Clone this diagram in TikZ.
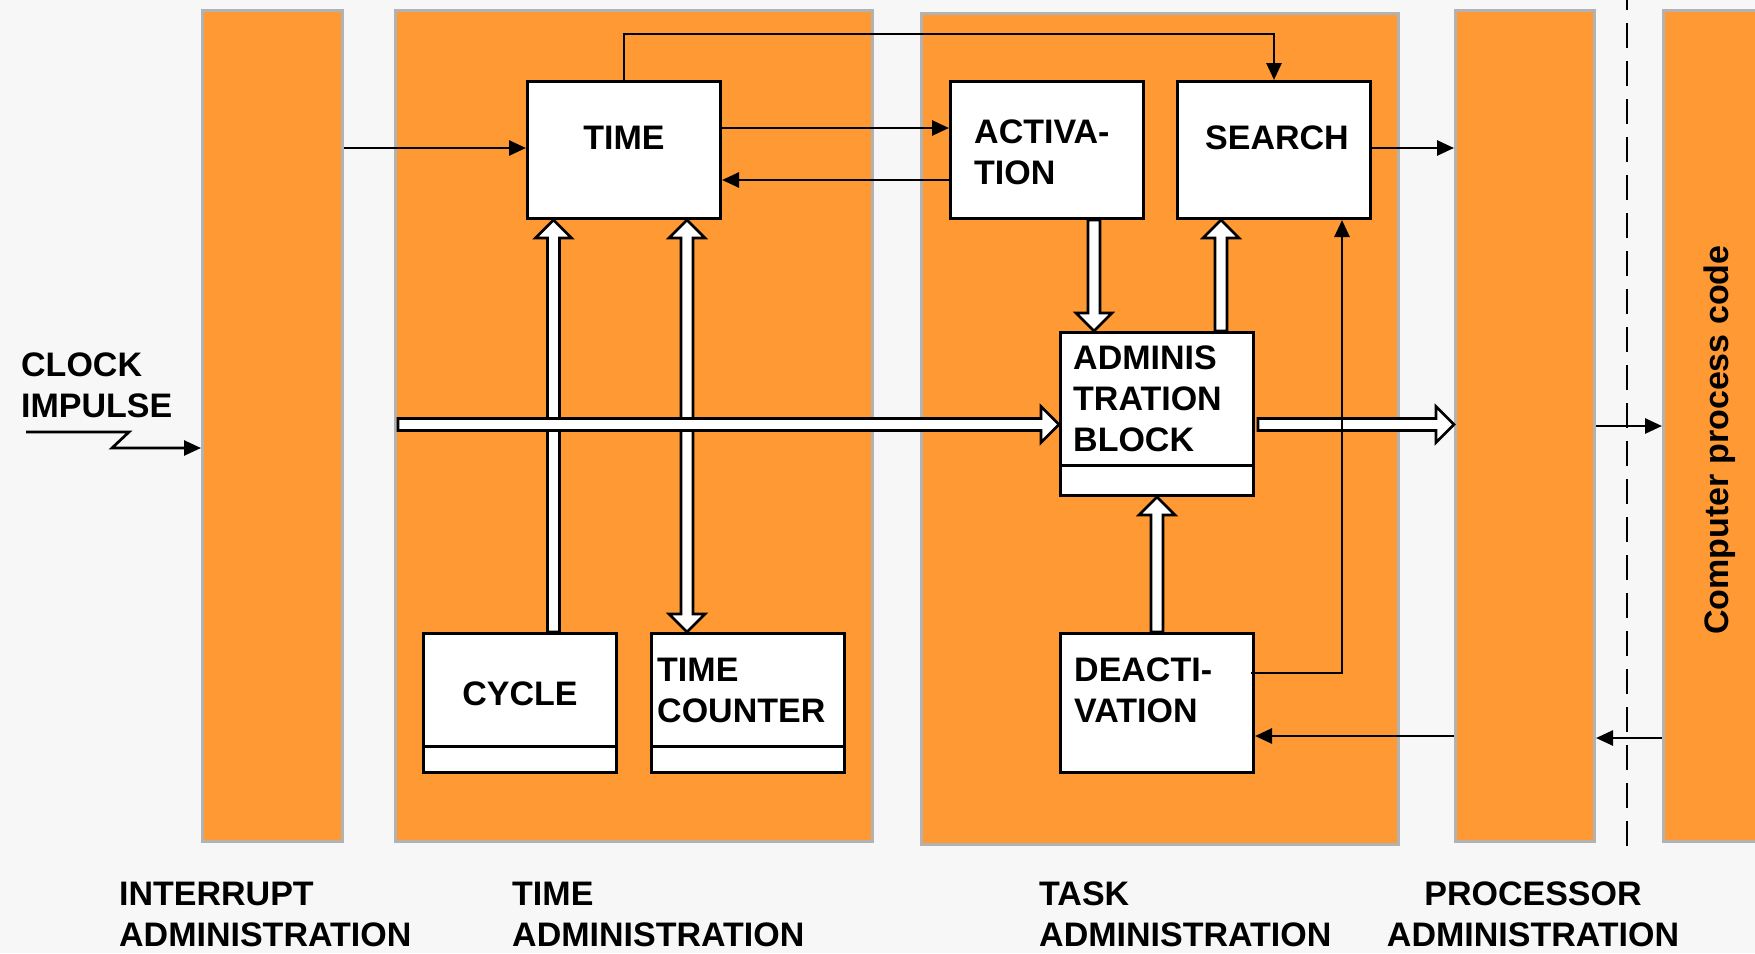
\documentclass[tikz,border=0pt]{standalone}
\usepackage{fontspec}
\setmainfont{Liberation Sans}
\usetikzlibrary{arrows.meta,calc}

\definecolor{panelfill}{RGB}{255,153,51}
\definecolor{panelrim}{RGB}{178,178,178}
\definecolor{paper}{RGB}{247,247,247}

% Broad white arrow: #1 tail, #2 tip, #3 unit direction, #4 unit normal
\newcommand\hollowarrow[4]{%
  \draw[hollow] ($(#1)+6*(#4)$) -- ($(#2)-18*(#3)+6*(#4)$) -- ($(#2)-18*(#3)+18*(#4)$)
    -- (#2) -- ($(#2)-18*(#3)-18*(#4)$) -- ($(#2)-18*(#3)-6*(#4)$) -- ($(#1)-6*(#4)$) -- cycle;}
% Broad white arrow with heads at both ends: #1 and #2 tips, #3 direction #1->#2, #4 normal
\newcommand\hollowdouble[4]{%
  \draw[hollow] ($(#1)+18*(#3)+6*(#4)$) -- ($(#2)-18*(#3)+6*(#4)$) -- ($(#2)-18*(#3)+18*(#4)$)
    -- (#2) -- ($(#2)-18*(#3)-18*(#4)$) -- ($(#2)-18*(#3)-6*(#4)$) -- ($(#1)+18*(#3)-6*(#4)$)
    -- ($(#1)+18*(#3)-18*(#4)$) -- (#1) -- ($(#1)+18*(#3)+18*(#4)$) -- cycle;}

\begin{document}
\begin{tikzpicture}[x=1pt,y=-1pt,
  panel/.style={draw=panelrim, fill=panelfill, line width=3pt, anchor=north west,
    inner sep=0pt, minimum height=831pt},
  blockbox/.style={draw=black, fill=white, line width=3pt, anchor=north west,
    inner sep=0pt, minimum width=193pt},
  lbl/.style={font=\fontsize{34}{41}\selectfont\bfseries, inner sep=0pt, align=left},
  conn/.style={line width=2.7pt, -{Triangle[length=17pt,width=15pt]}},
  hollow/.style={draw=black, fill=white, line width=2.6pt, line join=miter},
]
\fill[paper] (0,0) rectangle (1755,953);
\useasboundingbox (0,0) rectangle (1755,953);

% administration columns
\node[panel, minimum width=140pt] (intr) at (201,9) {};
\node[panel, minimum width=477pt] (tadm) at (394,9) {};
\node[panel, minimum width=477pt] (kadm) at (920,12) {};
\node[panel, minimum width=139pt] (padm) at (1454,9) {};
\node[panel, minimum width=120pt] (cpc) at (1662,9) {};

% separation between system and process code
\coordinate (sepTop) at (1627,0);
\coordinate (sepBot) at (1627,847);
\draw[line width=2.6pt, dash pattern=on 25pt off 13pt, dash phase=15pt] (sepTop) -- (sepBot);

% function blocks
\node[blockbox, minimum height=137pt] (time) at (526,80) {};
\node[blockbox, minimum height=137pt] (act) at (949,80) {};
\node[blockbox, minimum height=137pt] (search) at (1176,80) {};
\node[blockbox, minimum height=163pt] (adm) at (1059,331) {};
\node[blockbox, minimum height=139pt] (cyc) at (422,632) {};
\node[blockbox, minimum height=139pt] (tcnt) at (650,632) {};
\node[blockbox, minimum height=139pt] (deact) at (1059,632) {};

\draw[line width=3pt] (adm.west |- 0,465) -- (adm.east |- 0,465);
\draw[line width=3pt] (cyc.west |- 0,746) -- (cyc.east |- 0,746);
\draw[line width=3pt] (tcnt.west |- 0,746) -- (tcnt.east |- 0,746);

% data flows (broad arrows)
\hollowarrow{cyc.north -| 553.5,0}{time.south -| 553.5,0}{0,-1}{1,0}
\hollowdouble{time.south -| 687,0}{tcnt.north -| 687,0}{0,1}{1,0}
\hollowarrow{act.south -| 1094,0}{adm.north -| 1094,0}{0,1}{1,0}
\hollowarrow{adm.north -| 1221,0}{search.south -| 1221,0}{0,-1}{1,0}
\hollowarrow{deact.north}{adm.south}{0,-1}{1,0}
\coordinate (flowIn) at ($(tadm.west |- 0,424.5)+(4,0)$);
\coordinate (flowOut) at ($(adm.east |- 0,424.5)+(3,0)$);
\hollowarrow{flowIn}{adm.west |- 0,424.5}{1,0}{0,1}
\hollowarrow{flowOut}{padm.west |- 0,424.5}{1,0}{0,1}

% control flows
\coordinate (clk) at (26,432);
\draw[conn] (clk) -- ++(103,0) -- ++(-17,16) -- (intr.west |- 0,448);
\draw[conn] (intr.east |- 0,148) -- (time.west |- 0,148);
\draw[conn] (time.north) -- (time.north |- 0,34) -| (search.north);
\draw[conn] (time.east |- 0,128) -- (act.west |- 0,128);
\draw[conn] (act.west |- 0,180) -- (time.east |- 0,180);
\draw[conn] (search.east |- 0,148) -- (padm.west |- 0,148);
\draw[conn] ($(deact.east |- 0,673)+(-4,0)$) -| (search.south -| 1342,0);
\draw[conn] (padm.west |- 0,736) -- (deact.east |- 0,736);
\draw[conn] (padm.east |- 0,426) -- (cpc.west |- 0,426);
\draw[conn] (cpc.west |- 0,738) -- (padm.east |- 0,738);

% block texts (base anchor = baseline of the last line)
\node[lbl, anchor=base] (timetxt) at (time.north |- 0,149) {TIME};
\node[lbl, anchor=base west] (acttxt) at (974,184) {ACTIVA-\\TION};
\node[lbl, anchor=base west] (searchtxt) at (1205,149) {SEARCH};
\node[lbl, anchor=base west] (admtxt) at (1073,451) {ADMINIS\\TRATION\\BLOCK};
\node[lbl, anchor=base] (cyctxt) at (cyc.north |- 0,705) {CYCLE};
\node[lbl, anchor=base west] (tcnttxt) at (657,722) {TIME\\COUNTER};
\node[lbl, anchor=base west] (deacttxt) at (1074,722) {DEACTI-\\VATION};
\node[lbl, anchor=base west] (clktxt) at (21,417) {CLOCK\\IMPULSE};
\node[lbl, rotate=90, anchor=base] (cpctxt) at (1728,440) {Computer process code};

% column captions
\node[lbl, anchor=base west] (capIntr) at (119,946) {INTERRUPT\\ADMINISTRATION};
\node[lbl, anchor=base west] (capTime) at (512,946) {TIME\\ADMINISTRATION};
\node[lbl, anchor=base west] (capTask) at (1039,946) {TASK\\ADMINISTRATION};
\node[lbl, anchor=base, align=center] (capProc) at (1533,946) {PROCESSOR\\ADMINISTRATION};
\end{tikzpicture}
\end{document}
